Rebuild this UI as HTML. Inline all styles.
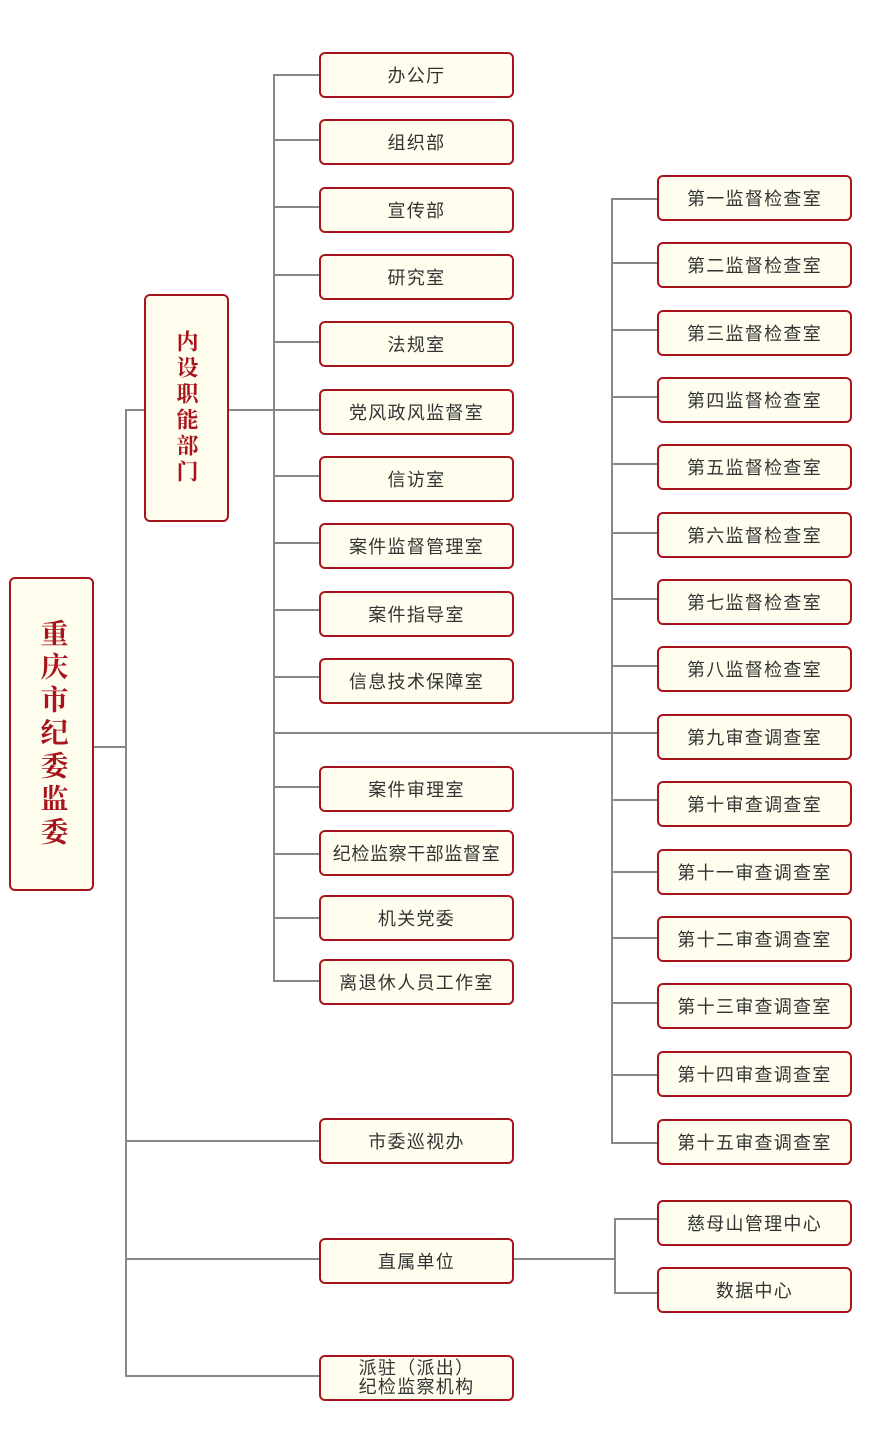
<!DOCTYPE html>
<html><head><meta charset="utf-8"><style>
body{margin:0;width:876px;height:1440px;background:#fff;position:relative;overflow:hidden}
.b{position:absolute;box-sizing:border-box;border:2px solid #a8141c;border-radius:6px;background:#fffeee;display:flex;align-items:center;justify-content:center;font-family:"Liberation Sans","Noto Sans CJK SC",sans-serif;font-size:18px;color:#333;letter-spacing:1.3px;white-space:nowrap}
.m{left:319px;width:195px;height:46px}
.r{left:657px;width:195px;height:46px}
.v{font-family:"Liberation Serif","Noto Serif CJK SC",serif;font-weight:bold;color:#a8141c;writing-mode:vertical-rl;text-orientation:upright}
.l{position:absolute;background:#888}
</style></head><body>
<div class="l" style="left:93px;top:746px;width:34px;height:2px"></div>
<div class="l" style="left:125px;top:409px;width:2px;height:968px"></div>
<div class="l" style="left:125px;top:409px;width:20px;height:2px"></div>
<div class="l" style="left:228px;top:409px;width:47px;height:2px"></div>
<div class="l" style="left:273px;top:74px;width:2px;height:908px"></div>
<div class="l" style="left:125px;top:1140px;width:195px;height:2px"></div>
<div class="l" style="left:125px;top:1258px;width:195px;height:2px"></div>
<div class="l" style="left:125px;top:1375px;width:195px;height:2px"></div>
<div class="l" style="left:273px;top:732px;width:385px;height:2px"></div>
<div class="l" style="left:611px;top:198px;width:2px;height:946px"></div>
<div class="l" style="left:513px;top:1258px;width:103px;height:2px"></div>
<div class="l" style="left:614px;top:1218px;width:2px;height:76px"></div>
<div class="l" style="left:614px;top:1218px;width:44px;height:2px"></div>
<div class="l" style="left:614px;top:1292px;width:44px;height:2px"></div>
<div class="b v" style="left:9px;top:577px;width:85px;height:314px;font-size:28px;letter-spacing:5px">重庆市纪委监委</div>
<div class="b v" style="left:144px;top:294px;width:85px;height:228px;font-size:22px;letter-spacing:4px">内设职能部门</div>
<div class="b m" style="top:52px">办公厅</div>
<div class="b m" style="top:119px">组织部</div>
<div class="b m" style="top:187px">宣传部</div>
<div class="b m" style="top:254px">研究室</div>
<div class="b m" style="top:321px">法规室</div>
<div class="b m" style="top:389px">党风政风监督室</div>
<div class="b m" style="top:456px">信访室</div>
<div class="b m" style="top:523px">案件监督管理室</div>
<div class="b m" style="top:591px">案件指导室</div>
<div class="b m" style="top:658px">信息技术保障室</div>
<div class="b m" style="top:766px">案件审理室</div>
<div class="b m" style="top:830px;letter-spacing:0.6px">纪检监察干部监督室</div>
<div class="b m" style="top:895px">机关党委</div>
<div class="b m" style="top:959px">离退休人员工作室</div>
<div class="b m" style="top:1118px">市委巡视办</div>
<div class="b m" style="top:1238px">直属单位</div>
<div class="b m" style="top:1355px;flex-direction:column;line-height:19px">派驻（派出）<br>纪检监察机构</div>
<div class="b r" style="top:175px">第一监督检查室</div>
<div class="b r" style="top:242px">第二监督检查室</div>
<div class="b r" style="top:310px">第三监督检查室</div>
<div class="b r" style="top:377px">第四监督检查室</div>
<div class="b r" style="top:444px">第五监督检查室</div>
<div class="b r" style="top:512px">第六监督检查室</div>
<div class="b r" style="top:579px">第七监督检查室</div>
<div class="b r" style="top:646px">第八监督检查室</div>
<div class="b r" style="top:714px">第九审查调查室</div>
<div class="b r" style="top:781px">第十审查调查室</div>
<div class="b r" style="top:849px">第十一审查调查室</div>
<div class="b r" style="top:916px">第十二审查调查室</div>
<div class="b r" style="top:983px">第十三审查调查室</div>
<div class="b r" style="top:1051px">第十四审查调查室</div>
<div class="b r" style="top:1119px">第十五审查调查室</div>
<div class="b r" style="top:1200px">慈母山管理中心</div>
<div class="b r" style="top:1267px">数据中心</div>
<div class="l" style="left:273px;top:74px;width:46px;height:2px"></div>
<div class="l" style="left:273px;top:139px;width:46px;height:2px"></div>
<div class="l" style="left:273px;top:206px;width:46px;height:2px"></div>
<div class="l" style="left:273px;top:274px;width:46px;height:2px"></div>
<div class="l" style="left:273px;top:341px;width:46px;height:2px"></div>
<div class="l" style="left:273px;top:409px;width:46px;height:2px"></div>
<div class="l" style="left:273px;top:475px;width:46px;height:2px"></div>
<div class="l" style="left:273px;top:542px;width:46px;height:2px"></div>
<div class="l" style="left:273px;top:609px;width:46px;height:2px"></div>
<div class="l" style="left:273px;top:676px;width:46px;height:2px"></div>
<div class="l" style="left:273px;top:786px;width:46px;height:2px"></div>
<div class="l" style="left:273px;top:853px;width:46px;height:2px"></div>
<div class="l" style="left:273px;top:917px;width:46px;height:2px"></div>
<div class="l" style="left:273px;top:980px;width:46px;height:2px"></div>
<div class="l" style="left:611px;top:198px;width:46px;height:2px"></div>
<div class="l" style="left:611px;top:262px;width:46px;height:2px"></div>
<div class="l" style="left:611px;top:329px;width:46px;height:2px"></div>
<div class="l" style="left:611px;top:396px;width:46px;height:2px"></div>
<div class="l" style="left:611px;top:463px;width:46px;height:2px"></div>
<div class="l" style="left:611px;top:532px;width:46px;height:2px"></div>
<div class="l" style="left:611px;top:598px;width:46px;height:2px"></div>
<div class="l" style="left:611px;top:665px;width:46px;height:2px"></div>
<div class="l" style="left:611px;top:799px;width:46px;height:2px"></div>
<div class="l" style="left:611px;top:871px;width:46px;height:2px"></div>
<div class="l" style="left:611px;top:937px;width:46px;height:2px"></div>
<div class="l" style="left:611px;top:1002px;width:46px;height:2px"></div>
<div class="l" style="left:611px;top:1074px;width:46px;height:2px"></div>
<div class="l" style="left:611px;top:1142px;width:46px;height:2px"></div>
</body></html>
